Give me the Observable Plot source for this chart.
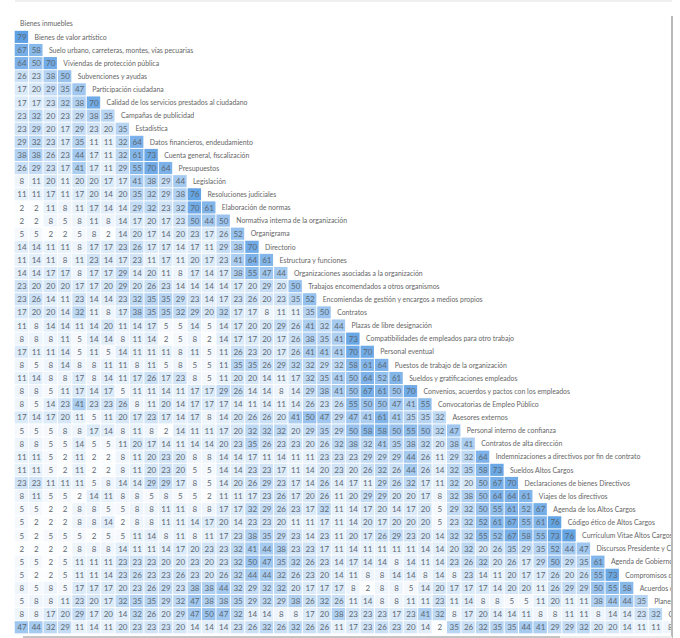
<!DOCTYPE html>
<html>
<head>
<meta charset="utf-8">
<script src="https://cdn.jsdelivr.net/npm/d3@7"></script>
<script src="https://cdn.jsdelivr.net/npm/@observablehq/plot@0.6"></script>
<style>
html,body{margin:0;padding:0;background:#fff;overflow:hidden;}
#wrap{position:relative;width:680px;height:638px;}
#wrap svg{position:absolute;left:0;top:0;}
.deco{position:absolute;}
</style>
</head>
<body>
<div id="wrap">
<div class="deco" style="left:15px;top:0;width:657px;height:1.5px;background:#efefef"></div>
<div class="deco" style="left:671px;top:16px;width:1.5px;height:622px;background:#b9b9b9"></div>
<div class="deco" style="left:23px;top:635.5px;width:537px;height:3px;background:#c4c4c4"></div>
<div class="deco" style="left:560px;top:635.5px;width:112px;height:3px;background:#ececec"></div>
</div>
<script>
const labels = ["Bienes inmuebles","Bienes de valor artístico","Suelo urbano, carreteras, montes, vías pecuarias","Viviendas de protección pública","Subvenciones y ayudas","Participación ciudadana","Calidad de los servicios prestados al ciudadano","Campañas de publicidad","Estadística","Datos financieros, endeudamiento","Cuenta general, fiscalización","Presupuestos","Legislación","Resoluciones judiciales","Elaboración de normas","Normativa interna de la organización","Organigrama","Directorio","Estructura y funciones","Organizaciones asociadas a la organización","Trabajos encomendados a otros organismos","Encomiendas de gestión y encargos a medios propios","Contratos","Plazas de libre designación","Compatibilidades de empleados para otro trabajo","Personal eventual","Puestos de trabajo de la organización","Sueldos y gratificaciones empleados","Convenios, acuerdos y pactos con los empleados","Convocatorias de Empleo Público","Asesores externos","Personal interno de confianza","Contratos de alta dirección","Indemnizaciones a directivos por fin de contrato","Sueldos Altos Cargos","Declaraciones de bienes Directivos","Viajes de los directivos","Agenda de los Altos Cargos","Código ético de Altos Cargos","Currículum Vitae Altos Cargos","Discursos Presidente y Consejeros","Agenda de Gobierno","Compromisos de Gobierno","Acuerdos de Gobierno","Planes estratégicos","Cartas de servicios",""];
const rows = [
[],
[79],
[67,58],
[64,50,70],
[26,23,38,50],
[17,20,29,35,47],
[17,17,23,32,38,70],
[23,32,20,23,29,38,35],
[23,29,20,17,29,23,20,35],
[29,32,23,17,35,11,11,32,64],
[38,38,26,23,44,17,11,32,61,73],
[26,29,23,17,41,17,11,29,55,70,64],
[8,11,20,11,20,20,17,17,41,38,29,44],
[11,11,17,11,17,20,14,20,35,32,29,38,76],
[2,2,11,8,11,17,14,14,29,32,23,32,70,61],
[2,2,8,5,8,11,8,14,17,20,17,23,50,44,50],
[5,5,2,2,5,8,2,14,20,17,14,20,23,17,26,52],
[14,14,11,11,8,17,17,23,26,17,17,14,17,11,29,38,70],
[11,14,11,8,11,23,14,17,23,11,17,11,20,17,23,41,64,61],
[14,14,17,17,8,17,17,29,14,20,11,8,17,14,17,38,55,47,44],
[23,20,20,20,17,17,20,29,20,26,23,14,14,14,14,17,20,29,20,50],
[23,26,14,11,23,14,14,23,32,35,35,29,23,14,17,23,26,20,23,35,52],
[17,20,20,14,32,11,8,17,38,35,35,32,29,20,32,17,17,8,11,11,35,50],
[11,8,14,14,11,14,20,11,14,17,5,5,14,5,14,17,20,20,29,26,41,32,44],
[8,8,8,11,5,14,14,8,11,14,2,5,8,2,14,17,17,20,17,26,38,35,41,73],
[17,11,11,14,5,11,5,14,11,11,11,8,11,5,11,26,23,20,17,26,41,41,41,70,70],
[8,5,8,14,8,8,11,11,8,11,5,8,5,5,11,35,35,26,29,32,32,29,32,58,61,64],
[11,14,8,8,17,8,14,11,17,26,17,23,8,5,11,20,20,14,11,17,32,35,41,50,64,52,61],
[8,8,5,11,17,14,17,5,11,11,14,11,17,17,29,26,14,14,8,14,29,38,41,50,67,61,50,70],
[8,5,14,23,41,23,23,26,8,11,20,14,17,17,17,14,11,14,11,14,26,23,26,55,50,50,47,41,55],
[17,14,17,20,11,5,11,20,17,23,17,14,17,8,14,20,26,26,20,41,50,47,29,47,41,61,41,35,35,32],
[5,5,5,8,8,17,14,8,11,8,2,14,11,11,17,20,32,32,32,20,29,35,29,50,58,58,50,55,50,32,47],
[8,8,5,5,14,5,5,11,20,17,14,11,14,14,20,23,35,26,23,23,20,26,32,38,32,41,35,38,32,20,38,41],
[11,11,5,2,11,2,2,8,11,20,23,20,8,8,14,14,17,11,14,11,11,23,23,23,29,29,29,44,26,11,29,32,64],
[11,11,5,2,11,2,2,8,11,20,23,20,5,5,14,14,23,23,17,11,14,20,23,20,26,32,26,44,26,14,32,35,58,73],
[23,23,11,11,11,5,8,14,14,29,29,17,8,5,14,20,26,29,23,17,14,26,14,17,11,29,26,32,17,11,32,20,50,67,70],
[8,11,5,5,2,14,11,8,8,5,8,5,5,2,11,11,17,23,26,17,20,26,11,20,29,29,20,20,17,8,32,38,50,64,64,61],
[5,5,2,2,8,8,5,5,8,8,11,11,8,8,17,17,32,29,26,23,17,32,11,14,17,20,14,17,20,5,29,32,50,55,61,52,67],
[5,2,2,2,8,8,14,2,8,8,11,11,14,17,20,14,23,23,20,11,11,17,11,14,20,17,20,20,20,5,23,32,52,61,67,55,61,76],
[5,2,5,5,5,2,5,5,11,14,8,11,8,11,17,23,38,35,29,23,14,23,11,20,17,26,29,23,20,14,32,32,55,52,67,58,55,73,76],
[2,2,2,2,8,8,8,14,11,11,14,17,20,23,23,32,41,44,38,23,23,17,11,14,11,11,11,11,14,14,20,32,20,26,35,29,35,52,44,47],
[5,5,2,5,11,11,11,23,23,23,20,20,23,20,23,32,50,47,35,32,26,23,14,17,14,14,8,14,11,14,23,26,32,20,26,17,29,50,29,35,61],
[5,2,2,5,11,11,14,23,26,23,23,26,23,20,26,32,44,44,32,26,23,20,14,11,8,8,14,14,8,14,8,23,14,11,20,17,17,26,20,26,55,73],
[8,5,8,5,17,17,17,20,23,26,29,23,38,38,44,32,29,32,32,20,17,17,17,8,2,8,8,5,14,20,17,17,17,14,20,20,11,26,29,29,50,55,58],
[5,8,8,11,23,20,17,32,35,35,29,32,47,38,38,35,29,32,29,38,26,32,26,11,14,8,8,11,11,23,11,14,8,8,5,5,11,20,11,11,38,44,44,35],
[8,8,17,20,29,17,20,14,32,26,20,29,47,50,47,32,14,14,8,8,17,20,38,23,23,23,17,23,41,32,8,17,20,14,14,11,8,8,11,11,8,14,14,23,32],
[47,44,32,29,11,14,11,20,23,23,23,20,14,14,14,23,26,32,26,32,26,26,11,17,23,26,23,20,14,2,35,26,32,35,35,44,41,29,29,32,20,20,14,11,11,8]
];
const cells = rows.flatMap((vals, r) => vals.map((v, c) => ({r, c, v})));
const labelRows = labels.map((name, r) => ({r, name}));
const idx = d3.range(labels.length);
const chart = Plot.plot({
  width: 672,
  height: 638,
  margin: 0,
  style: {background: "transparent", fontFamily: "Lato, sans-serif"},
  x: {type: "band", domain: idx, range: [14.2, 14.2 + 47 * 14.41], padding: 0, round: false, axis: null},
  y: {type: "band", domain: idx, range: [17.2, 17.2 + 47 * 13.12], padding: 0, round: false, axis: null},
  color: {type: "linear", domain: [0, 80], range: ["#ffffff", "#5b9fe3"]},
  marks: [
    Plot.cell(cells, {x: "c", y: "r", fill: "v", inset: 0.5}),
    Plot.text(cells, {x: "c", y: "r", text: "v", fill: "#5f6870", fontSize: 8}),
    Plot.text(labelRows, {x: "r", y: "r", text: "name", textAnchor: "start", dx: -1.8, fill: "#666", fontSize: 6.9})
  ]
});
document.getElementById("wrap").prepend(chart);
</script>
</body>
</html>
